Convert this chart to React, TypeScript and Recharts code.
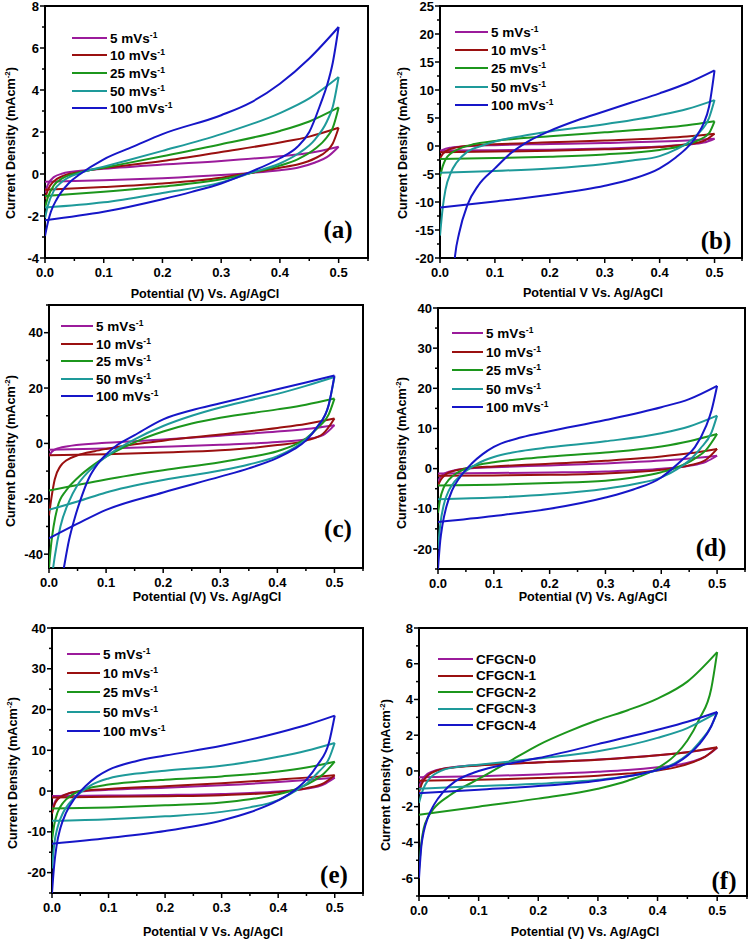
import React from 'react'
import { LineChart, Line, XAxis, YAxis, ReferenceArea } from 'recharts'

const FONT = '"Liberation Sans", Arial, Helvetica, sans-serif'
const SERIF = '"Liberation Serif", "Times New Roman", serif'
const COLORS = ['#9b1b9b', '#9a1010', '#1c961c', '#1e9a9a', '#1616c8']

const RATE_LABELS = ['5', '10', '25', '50', '100']
const SAMPLE_LABELS = ['CFGCN-0', 'CFGCN-1', 'CFGCN-2', 'CFGCN-3', 'CFGCN-4']

const X_TICKS = [0, 0.05, 0.1, 0.15, 0.2, 0.25, 0.3, 0.35, 0.4, 0.45, 0.5, 0.55]
const A_Y_TICKS = [-4, -3, -2, -1, 0, 1, 2, 3, 4, 5, 6, 7, 8]
const B_Y_TICKS = [-20, -17.5, -15, -12.5, -10, -7.5, -5, -2.5, 0, 2.5, 5, 7.5, 10, 12.5, 15, 17.5, 20, 22.5, 25]
const C_Y_TICKS = [-40, -30, -20, -10, 0, 10, 20, 30, 40, 50]
const DE_Y_TICKS = [-25, -20, -15, -10, -5, 0, 5, 10, 15, 20, 25, 30, 35, 40]
const F_Y_TICKS = [-7, -6, -5, -4, -3, -2, -1, 0, 1, 2, 3, 4, 5, 6, 7, 8]

// [potential V, current density mA cm-2]; fwd = anodic (upper) sweep, rev = cathodic (lower) sweep
const aFwd5 = [[0, -0.9], [0.005, -0.5], [0.015, -0.15], [0.03, 0.02], [0.06, 0.15], [0.1, 0.25], [0.2, 0.45], [0.3, 0.62], [0.4, 0.85], [0.45, 1.0], [0.5, 1.3]]
const aRev5 = [[0, -0.37], [0.1, -0.3], [0.2, -0.2], [0.3, -0.05], [0.35, 0.05], [0.4, 0.18], [0.43, 0.3], [0.46, 0.55], [0.48, 0.8], [0.5, 1.3]]
const aFwd10 = [[0, -1.2], [0.005, -0.75], [0.015, -0.35], [0.03, -0.1], [0.06, 0.1], [0.1, 0.28], [0.2, 0.62], [0.3, 1.05], [0.4, 1.5], [0.45, 1.78], [0.5, 2.2]]
const aRev10 = [[0, -0.75], [0.1, -0.62], [0.2, -0.45], [0.3, -0.18], [0.35, 0.05], [0.4, 0.3], [0.43, 0.45], [0.46, 0.75], [0.48, 1.1], [0.49, 1.45], [0.5, 2.2]]
const aFwd25 = [[0, -1.6], [0.005, -1.1], [0.015, -0.55], [0.03, -0.2], [0.06, 0.08], [0.1, 0.3], [0.2, 0.85], [0.3, 1.42], [0.4, 2.05], [0.45, 2.5], [0.5, 3.17]]
const aRev25 = [[0, -1.05], [0.1, -0.85], [0.2, -0.6], [0.3, -0.25], [0.35, 0.05], [0.4, 0.4], [0.43, 0.7], [0.46, 1.2], [0.48, 1.75], [0.49, 2.2], [0.5, 3.17]]
const aFwd50 = [[0, -2.1], [0.005, -1.5], [0.015, -0.8], [0.03, -0.35], [0.06, 0.05], [0.1, 0.35], [0.2, 1.1], [0.3, 1.9], [0.4, 2.9], [0.45, 3.6], [0.5, 4.62]]
const aRev50 = [[0, -1.6], [0.1, -1.35], [0.2, -0.9], [0.3, -0.4], [0.35, 0.05], [0.4, 0.5], [0.43, 0.95], [0.46, 1.65], [0.48, 2.5], [0.49, 3.2], [0.5, 4.62]]
const aFwd100 = [[0, -2.95], [0.005, -2.3], [0.01, -1.8], [0.02, -1.2], [0.04, -0.45], [0.06, 0.0], [0.1, 0.7], [0.15, 1.3], [0.2, 1.9], [0.3, 2.8], [0.35, 3.4], [0.4, 4.3], [0.45, 5.5], [0.5, 7.0]]
const aRev100 = [[0, -2.2], [0.1, -1.8], [0.2, -1.2], [0.25, -0.85], [0.3, -0.45], [0.35, 0.1], [0.4, 0.75], [0.43, 1.3], [0.45, 2.0], [0.47, 3.4], [0.48, 4.2], [0.49, 5.3], [0.5, 7.0]]

const bFwd5 = [[0, -1.1], [0.005, -0.7], [0.02, -0.3], [0.05, -0.05], [0.1, 0.15], [0.2, 0.35], [0.3, 0.55], [0.4, 0.8], [0.45, 1.0], [0.5, 1.3]]
const bRev5 = [[0, -0.8], [0.1, -0.75], [0.2, -0.65], [0.3, -0.45], [0.4, -0.1], [0.45, 0.25], [0.48, 0.6], [0.5, 1.3]]
const bFwd10 = [[0, -2.2], [0.005, -1.4], [0.015, -0.7], [0.03, -0.25], [0.06, 0.1], [0.1, 0.3], [0.2, 0.65], [0.3, 1.0], [0.4, 1.4], [0.45, 1.7], [0.5, 2.2]]
const bRev10 = [[0, -1.1], [0.1, -1.0], [0.2, -0.85], [0.3, -0.6], [0.4, -0.2], [0.45, 0.3], [0.48, 0.9], [0.5, 2.2]]
const bFwd25 = [[0, -5.5], [0.005, -3.6], [0.01, -2.4], [0.02, -1.3], [0.035, -0.5], [0.06, 0.3], [0.1, 0.9], [0.2, 1.75], [0.3, 2.45], [0.4, 3.2], [0.45, 3.7], [0.5, 4.4]]
const bRev25 = [[0, -2.3], [0.1, -2.15], [0.2, -1.9], [0.3, -1.5], [0.4, -0.7], [0.44, 0.0], [0.47, 1.0], [0.49, 2.3], [0.5, 4.4]]
const bFwd50 = [[0, -16], [0.005, -11], [0.01, -7.8], [0.02, -4.7], [0.03, -3.0], [0.05, -1.0], [0.075, 0.0], [0.1, 0.8], [0.15, 1.8], [0.2, 2.6], [0.3, 3.9], [0.4, 5.5], [0.45, 6.6], [0.5, 8.2]]
const bRev50 = [[0, -4.8], [0.1, -4.45], [0.2, -4.0], [0.3, -3.2], [0.35, -2.6], [0.4, -1.8], [0.43, -0.6], [0.45, 0.5], [0.47, 2.2], [0.49, 5.0], [0.5, 8.2]]
const bFwd100 = [[0.02, -30], [0.027, -20], [0.035, -15.5], [0.05, -10.5], [0.07, -7.0], [0.1, -4.0], [0.13, -1.2], [0.16, 0.8], [0.2, 2.7], [0.25, 4.6], [0.3, 6.2], [0.35, 7.8], [0.4, 9.4], [0.45, 11.2], [0.5, 13.5]]
const bRev100 = [[0, -11.0], [0.1, -9.9], [0.2, -8.7], [0.3, -7.1], [0.35, -5.9], [0.4, -4.0], [0.43, -2.0], [0.45, -0.3], [0.46, 0.8], [0.47, 2.2], [0.48, 4.0], [0.49, 7.0], [0.5, 13.5]]

const cFwd5 = [[0, -4.5], [0.005, -3.0], [0.015, -1.8], [0.04, -0.8], [0.1, 0.2], [0.2, 1.4], [0.3, 2.8], [0.4, 4.3], [0.45, 5.2], [0.5, 6.6]]
const cRev5 = [[0, -2.3], [0.1, -1.8], [0.2, -1.2], [0.3, -0.5], [0.4, 0.5], [0.45, 1.5], [0.48, 3.0], [0.5, 6.6]]
const cFwd10 = [[0, -26], [0.004, -20], [0.01, -13], [0.02, -8.2], [0.03, -6.2], [0.05, -4.3], [0.08, -2.8], [0.1, -2.0], [0.15, -0.3], [0.2, 1.0], [0.3, 3.2], [0.4, 5.6], [0.45, 7.0], [0.5, 9.0]]
const cRev10 = [[0, -4.3], [0.1, -3.9], [0.2, -3.3], [0.3, -2.5], [0.4, -0.6], [0.45, 1.0], [0.48, 3.5], [0.5, 9.0]]
const cFwd25 = [[0, -45], [0.004, -36], [0.008, -30], [0.015, -23], [0.03, -17], [0.05, -12.5], [0.08, -7.5], [0.1, -4.8], [0.13, -1.5], [0.16, 1.3], [0.2, 4.3], [0.25, 7.2], [0.3, 9.3], [0.4, 12.3], [0.45, 14.0], [0.5, 16.2]]
const cRev25 = [[0, -17], [0.1, -13], [0.2, -9.7], [0.3, -6.8], [0.35, -5.0], [0.4, -2.8], [0.43, -0.5], [0.45, 1.8], [0.47, 5.5], [0.49, 10.5], [0.5, 16.2]]
const cFwd50 = [[0.004, -50], [0.01, -41], [0.02, -30], [0.035, -21], [0.05, -15], [0.07, -10], [0.1, -4.8], [0.12, -2.0], [0.15, 1.5], [0.2, 6.3], [0.25, 10], [0.3, 13], [0.35, 15.5], [0.4, 17.9], [0.45, 20.8], [0.5, 24]]
const cRev50 = [[0, -24], [0.05, -21], [0.1, -17.7], [0.2, -13.2], [0.3, -9.8], [0.35, -7.6], [0.4, -4.6], [0.43, -1.5], [0.45, 1.5], [0.47, 6], [0.49, 14], [0.5, 24]]
const cFwd100 = [[0.02, -52], [0.026, -45], [0.035, -35], [0.045, -27], [0.055, -20.5], [0.07, -12.5], [0.085, -7.5], [0.1, -4.0], [0.12, -0.5], [0.15, 3.0], [0.2, 8.7], [0.25, 12], [0.3, 14.5], [0.35, 17], [0.4, 19.6], [0.45, 22], [0.5, 24.5]]
const cRev100 = [[0, -34.3], [0.05, -29], [0.1, -24], [0.2, -17.7], [0.3, -12], [0.35, -9], [0.4, -5.2], [0.43, -2.0], [0.45, 1.0], [0.47, 6.0], [0.49, 14], [0.5, 24.5]]

const dFwd5 = [[0, -3.2], [0.005, -2.0], [0.015, -1.0], [0.03, -0.4], [0.06, 0.1], [0.1, 0.35], [0.2, 0.8], [0.3, 1.3], [0.4, 2.0], [0.45, 2.5], [0.5, 3.2]]
const dRev5 = [[0, -1.2], [0.1, -1.1], [0.2, -0.95], [0.3, -0.7], [0.4, -0.05], [0.45, 0.7], [0.48, 1.7], [0.5, 3.2]]
const dFwd10 = [[0, -4.2], [0.005, -2.8], [0.015, -1.3], [0.03, -0.5], [0.06, 0.2], [0.1, 0.55], [0.2, 1.2], [0.3, 1.95], [0.4, 3.0], [0.45, 3.8], [0.5, 4.9]]
const dRev10 = [[0, -1.8], [0.1, -1.7], [0.2, -1.55], [0.3, -1.2], [0.4, -0.3], [0.45, 0.8], [0.48, 2.2], [0.5, 4.9]]
const dFwd25 = [[0, -11], [0.004, -7.5], [0.01, -4.8], [0.02, -2.7], [0.035, -1.0], [0.06, 0.5], [0.1, 1.6], [0.15, 2.4], [0.2, 3.0], [0.3, 4.0], [0.4, 5.5], [0.45, 6.8], [0.5, 8.6]]
const dRev25 = [[0, -4.2], [0.1, -4.0], [0.2, -3.6], [0.3, -3.0], [0.35, -2.2], [0.4, -0.9], [0.43, 0.4], [0.46, 2.5], [0.48, 4.6], [0.5, 8.6]]
const dFwd50 = [[0, -20], [0.004, -14], [0.01, -9.2], [0.02, -5.3], [0.03, -3.2], [0.05, -0.6], [0.07, 1.2], [0.1, 2.9], [0.15, 4.4], [0.2, 5.3], [0.3, 6.8], [0.4, 8.8], [0.45, 10.5], [0.5, 13.2]]
const dRev50 = [[0, -7.6], [0.1, -7.2], [0.2, -6.4], [0.3, -5.0], [0.35, -3.9], [0.4, -2.2], [0.43, 0.0], [0.45, 2.0], [0.47, 5.0], [0.49, 9.0], [0.5, 13.2]]
const dFwd100 = [[0, -25], [0.004, -18], [0.008, -14], [0.015, -9.5], [0.025, -5.5], [0.04, -2.0], [0.06, 1.2], [0.08, 3.6], [0.1, 5.4], [0.15, 7.8], [0.2, 9.3], [0.3, 12.1], [0.4, 15.3], [0.45, 17.3], [0.5, 20.6]]
const dRev100 = [[0, -13.3], [0.1, -11.8], [0.2, -10], [0.3, -7.2], [0.35, -5.2], [0.4, -2.2], [0.42, 0.0], [0.44, 2.5], [0.46, 5.3], [0.48, 10.5], [0.49, 14.5], [0.5, 20.6]]

const eFwd5 = [[0, -5], [0.004, -3], [0.01, -1.8], [0.025, -0.8], [0.05, -0.1], [0.1, 0.3], [0.2, 0.8], [0.3, 1.4], [0.4, 2.2], [0.45, 2.7], [0.5, 3.3]]
const eRev5 = [[0, -1.2], [0.1, -1.1], [0.2, -0.95], [0.3, -0.7], [0.4, -0.1], [0.45, 0.6], [0.48, 1.6], [0.5, 3.3]]
const eFwd10 = [[0, -5.5], [0.004, -3.5], [0.01, -2.0], [0.025, -0.8], [0.05, 0.0], [0.1, 0.5], [0.2, 1.2], [0.3, 1.9], [0.4, 2.8], [0.45, 3.3], [0.5, 3.9]]
const eRev10 = [[0, -1.6], [0.1, -1.4], [0.2, -1.25], [0.3, -1.0], [0.4, -0.3], [0.45, 0.7], [0.48, 1.9], [0.5, 3.9]]
const eFwd25 = [[0, -12], [0.004, -8.2], [0.01, -5.2], [0.02, -2.8], [0.035, -1.0], [0.06, 0.5], [0.1, 1.6], [0.15, 2.3], [0.2, 2.8], [0.3, 3.6], [0.4, 4.8], [0.45, 5.8], [0.5, 7.2]]
const eRev25 = [[0, -4.3], [0.1, -4.0], [0.2, -3.5], [0.3, -2.8], [0.35, -2.0], [0.4, -0.8], [0.43, 0.4], [0.46, 2.3], [0.48, 4.2], [0.5, 7.2]]
const eFwd50 = [[0, -19], [0.004, -13], [0.01, -8.8], [0.02, -5.2], [0.03, -3.1], [0.05, -0.4], [0.07, 1.5], [0.1, 3.1], [0.15, 4.3], [0.2, 5.0], [0.3, 6.2], [0.4, 8.4], [0.45, 9.9], [0.5, 11.8]]
const eRev50 = [[0, -7.3], [0.1, -6.9], [0.2, -6.2], [0.3, -5.1], [0.35, -4.0], [0.4, -2.2], [0.43, 0.0], [0.45, 1.8], [0.47, 4.5], [0.49, 8.0], [0.5, 11.8]]
const eFwd100 = [[0, -25], [0.004, -18], [0.008, -13.5], [0.015, -9.0], [0.025, -5.3], [0.04, -1.8], [0.06, 1.3], [0.08, 3.6], [0.1, 5.2], [0.15, 7.4], [0.2, 8.7], [0.3, 11.1], [0.4, 14.3], [0.45, 16.2], [0.5, 18.5]]
const eRev100 = [[0, -12.9], [0.1, -11.5], [0.2, -9.8], [0.3, -7.2], [0.35, -5.2], [0.4, -2.3], [0.43, 0.3], [0.45, 2.8], [0.47, 6.5], [0.49, 12], [0.5, 18.5]]

const fFwd0 = [[0, -0.9], [0.005, -0.5], [0.015, -0.15], [0.03, 0.05], [0.06, 0.22], [0.1, 0.32], [0.2, 0.48], [0.3, 0.64], [0.4, 0.88], [0.45, 1.05], [0.5, 1.3]]
const fRev0 = [[0, -0.35], [0.1, -0.3], [0.2, -0.2], [0.3, -0.05], [0.35, 0.05], [0.4, 0.2], [0.43, 0.32], [0.46, 0.55], [0.48, 0.8], [0.5, 1.3]]
const fFwd1 = [[0, -1.2], [0.005, -0.7], [0.015, -0.25], [0.03, 0.02], [0.06, 0.2], [0.1, 0.3], [0.2, 0.47], [0.3, 0.63], [0.4, 0.88], [0.45, 1.05], [0.5, 1.32]]
const fRev1 = [[0, -0.55], [0.1, -0.5], [0.2, -0.4], [0.3, -0.27], [0.35, -0.15], [0.4, 0.02], [0.43, 0.2], [0.46, 0.5], [0.48, 0.8], [0.5, 1.32]]
const fFwd2 = [[0, -5.5], [0.004, -4.0], [0.008, -3.2], [0.015, -2.6], [0.025, -2.1], [0.05, -1.4], [0.1, -0.45], [0.15, 0.5], [0.2, 1.45], [0.25, 2.2], [0.3, 2.85], [0.35, 3.4], [0.4, 4.05], [0.45, 5.0], [0.5, 6.65]]
const fRev2 = [[0, -2.45], [0.1, -2.0], [0.2, -1.55], [0.3, -1.0], [0.35, -0.55], [0.4, 0.15], [0.43, 0.9], [0.45, 1.7], [0.47, 2.9], [0.49, 4.6], [0.5, 6.65]]
const fFwd3 = [[0, -1.8], [0.005, -1.2], [0.01, -0.8], [0.02, -0.35], [0.04, 0.05], [0.07, 0.25], [0.1, 0.35], [0.2, 0.7], [0.3, 1.1], [0.4, 1.85], [0.45, 2.4], [0.5, 3.26]]
const fRev3 = [[0, -1.0], [0.1, -0.85], [0.2, -0.72], [0.3, -0.5], [0.35, -0.3], [0.4, 0.05], [0.43, 0.45], [0.45, 0.9], [0.47, 1.6], [0.49, 2.5], [0.5, 3.26]]
const fFwd4 = [[0, -6], [0.004, -4.2], [0.008, -3.4], [0.015, -2.6], [0.025, -1.9], [0.04, -1.2], [0.06, -0.6], [0.08, -0.25], [0.1, 0.0], [0.15, 0.4], [0.2, 0.72], [0.3, 1.5], [0.4, 2.3], [0.45, 2.75], [0.5, 3.3]]
const fRev4 = [[0, -1.25], [0.1, -1.05], [0.2, -0.85], [0.3, -0.55], [0.35, -0.3], [0.4, 0.05], [0.43, 0.4], [0.45, 0.85], [0.47, 1.5], [0.49, 2.5], [0.5, 3.3]]

const toPts = (arr: number[][]) => arr.map(([x, y]) => ({ x, y }))
const isMajor = (v: number, step: number) => Math.abs(v / step - Math.round(v / step)) < 1e-6

const PANELS = [
  {
    id: 'a', plot: [45, 6, 368, 258], yDomain: [-4, 8], yTicks: A_Y_TICKS, yStep: 2,
    xTitle: 'Potential (V) Vs. Ag/AgCl', xTitleAt: [205, 294], yTitleAt: [10, 143], letterAt: [338, 230],
    legend: { x: 72, y: 37.7, gap: 17.6, len: 35 }, labels: RATE_LABELS,
    sweeps: [[aFwd5, aRev5], [aFwd10, aRev10], [aFwd25, aRev25], [aFwd50, aRev50], [aFwd100, aRev100]],
  },
  {
    id: 'b', plot: [440, 6, 742, 258], yDomain: [-20, 25], yTicks: B_Y_TICKS, yStep: 5,
    xTitle: 'Potential V Vs. Ag/AgCl', xTitleAt: [593, 293], yTitleAt: [402, 143], letterAt: [716, 241],
    legend: { x: 455, y: 32, gap: 18.2, len: 33 }, labels: RATE_LABELS,
    sweeps: [[bFwd5, bRev5], [bFwd10, bRev10], [bFwd25, bRev25], [bFwd50, bRev50], [bFwd100, bRev100]],
  },
  {
    id: 'c', plot: [49, 305, 363, 568], yDomain: [-45, 50], yTicks: C_Y_TICKS, yStep: 20,
    xTitle: 'Potential (V) Vs. Ag/AgCl', xTitleAt: [207, 597], yTitleAt: [10, 451], letterAt: [338, 529],
    legend: { x: 61, y: 326, gap: 17.5, len: 32 }, labels: RATE_LABELS,
    sweeps: [[cFwd5, cRev5], [cFwd10, cRev10], [cFwd25, cRev25], [cFwd50, cRev50], [cFwd100, cRev100]],
  },
  {
    id: 'd', plot: [438, 308, 745, 569], yDomain: [-25, 40], yTicks: DE_Y_TICKS, yStep: 10,
    xTitle: 'Potential (V) Vs. Ag/AgCl', xTitleAt: [593, 597], yTitleAt: [401, 453], letterAt: [711, 548],
    legend: { x: 452, y: 333, gap: 18.5, len: 31 }, labels: RATE_LABELS,
    sweeps: [[dFwd5, dRev5], [dFwd10, dRev10], [dFwd25, dRev25], [dFwd50, dRev50], [dFwd100, dRev100]],
  },
  {
    id: 'e', plot: [52, 628, 363, 893], yDomain: [-25, 40], yTicks: DE_Y_TICKS, yStep: 10,
    xTitle: 'Potential V Vs. Ag/AgCl', xTitleAt: [213, 932], yTitleAt: [12, 773], letterAt: [334, 875],
    legend: { x: 67, y: 654, gap: 19.2, len: 33 }, labels: RATE_LABELS,
    sweeps: [[eFwd5, eRev5], [eFwd10, eRev10], [eFwd25, eRev25], [eFwd50, eRev50], [eFwd100, eRev100]],
  },
  {
    id: 'f', plot: [419, 628, 747, 896], yDomain: [-7, 8], yTicks: F_Y_TICKS, yStep: 2,
    xTitle: 'Potential (V) Vs. Ag/AgCl', xTitleAt: [585, 932], yTitleAt: [385, 775], letterAt: [724, 881],
    legend: { x: 438, y: 659, gap: 16.5, len: 35 }, labels: SAMPLE_LABELS,
    sweeps: [[fFwd0, fRev0], [fFwd1, fRev1], [fFwd2, fRev2], [fFwd3, fRev3], [fFwd4, fRev4]],
  },
]

const XTick = (props: any) => {
  const { x, y, payload } = props
  const v = payload.value as number
  const major = isMajor(v, 0.1)
  return (
    <g>
      <line x1={x} x2={x} y1={y} y2={y + (major ? 5 : 3)} stroke="#000" strokeWidth={1.5} />
      {major && (
        <text x={x} y={y + 18.5} textAnchor="middle" fontSize={13} fontWeight="bold" fontFamily={FONT} fill="#000">
          {v.toFixed(1)}
        </text>
      )}
    </g>
  )
}

const makeYTick = (step: number) => (props: any) => {
  const { x, y, payload } = props
  const v = payload.value as number
  const major = isMajor(v, step)
  return (
    <g>
      <line x1={x - (major ? 5 : 3)} x2={x} y1={y} y2={y} stroke="#000" strokeWidth={1.5} />
      {major && (
        <text x={x - 6} y={y + 4.6} textAnchor="end" fontSize={13} fontWeight="bold" fontFamily={FONT} fill="#000">
          {v}
        </text>
      )}
    </g>
  )
}

function Panel({ p }: { p: any }) {
  const [L, T, R, B] = p.plot
  const yW = 40
  const xH = 30
  const mTop = 10
  const mRight = 10
  const w = R - L + yW + mRight
  const h = B - T + mTop + xH
  const isRate = p.labels === RATE_LABELS

  return (
    <>
      <div style={{ position: 'absolute', left: L - yW, top: T - mTop }}>
        <LineChart width={w} height={h} margin={{ top: mTop, right: mRight, bottom: 0, left: 0 }}>
          <XAxis
            dataKey="x" type="number" domain={[0, 0.55]} ticks={X_TICKS} interval={0}
            allowDataOverflow height={xH} axisLine={false} tickLine={false} tickSize={0} tickMargin={0} tick={XTick}
          />
          <YAxis
            type="number" domain={p.yDomain} ticks={p.yTicks} interval={0}
            allowDataOverflow width={yW} axisLine={false} tickLine={false} tickSize={0} tickMargin={0} tick={makeYTick(p.yStep)}
          />
          <ReferenceArea x1={0} x2={0.55} y1={p.yDomain[0]} y2={p.yDomain[1]} fill="none" stroke="#000" strokeWidth={2} />
          {p.sweeps.map((s: number[][][], i: number) => [
            <Line key={`f${i}`} data={toPts(s[0])} dataKey="y" type="monotone" stroke={COLORS[i]} strokeWidth={2} dot={false} activeDot={false} isAnimationActive={false} />,
            <Line key={`r${i}`} data={toPts(s[1])} dataKey="y" type="monotone" stroke={COLORS[i]} strokeWidth={2} dot={false} activeDot={false} isAnimationActive={false} />,
          ])}
        </LineChart>
      </div>

      {/* legend */}
      {p.labels.map((lab: string, i: number) => (
        <div
          key={lab}
          style={{
            position: 'absolute', left: p.legend.x, top: p.legend.y + i * p.legend.gap - 9, height: 18,
            display: 'flex', alignItems: 'center', whiteSpace: 'nowrap',
            fontFamily: FONT, fontWeight: 'bold', fontSize: 13.5, color: '#000',
          }}
        >
          <span style={{ display: 'inline-block', width: p.legend.len, height: 2, background: COLORS[i], marginRight: 3 }} />
          {isRate ? (
            <span>{lab} mVs<sup style={{ fontSize: 8.5, verticalAlign: 5 }}>-1</sup></span>
          ) : (
            <span>{lab}</span>
          )}
        </div>
      ))}

      {/* axis titles */}
      <div
        style={{
          position: 'absolute', left: p.xTitleAt[0], top: p.xTitleAt[1], transform: 'translate(-50%, -50%)',
          whiteSpace: 'nowrap', fontFamily: FONT, fontWeight: 'bold', fontSize: 12.6, color: '#000',
        }}
      >
        {p.xTitle}
      </div>
      <div
        style={{
          position: 'absolute', left: p.yTitleAt[0], top: p.yTitleAt[1], transform: 'translate(-50%, -50%) rotate(-90deg)',
          whiteSpace: 'nowrap', fontFamily: FONT, fontWeight: 'bold', fontSize: 12.6, color: '#000',
        }}
      >
        Current Density (mAcm<sup style={{ fontSize: 8, verticalAlign: 5 }}>-2</sup>)
      </div>

      {/* panel letter */}
      <div
        style={{
          position: 'absolute', left: p.letterAt[0], top: p.letterAt[1], transform: 'translate(-50%, -50%)',
          whiteSpace: 'nowrap', fontFamily: SERIF, fontWeight: 'bold', fontSize: 25, color: '#000',
        }}
      >
        ({p.id})
      </div>
    </>
  )
}

export default function App() {
  return (
    <div style={{ position: 'absolute', left: 0, top: 0, width: 750, height: 942, background: '#fff', overflow: 'hidden' }}>
      {PANELS.map((p) => (
        <Panel key={p.id} p={p} />
      ))}
    </div>
  )
}
